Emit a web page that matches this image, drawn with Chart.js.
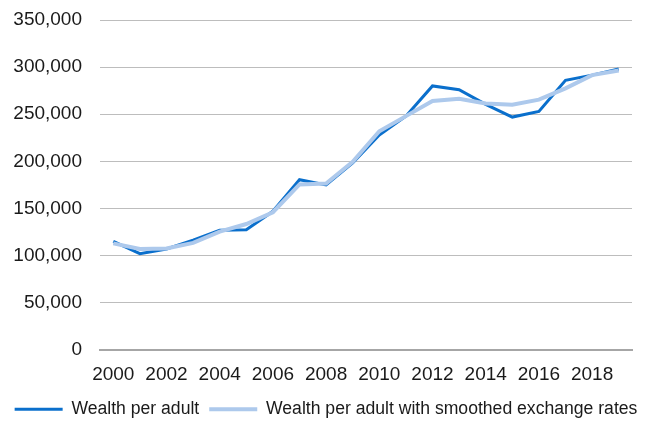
<!DOCTYPE html>
<html>
<head>
<meta charset="utf-8">
<script src="https://cdn.jsdelivr.net/npm/chart.js@4.4.1/dist/chart.umd.min.js"></script>
<style>
  html, body { margin: 0; padding: 0; background: #ffffff; }
  #wrap { width: 652px; height: 428px; position: relative; }
</style>
</head>
<body>
<div id="wrap"><canvas id="c" width="652" height="428"></canvas></div>
<script>
const years = ['2000','2001','2002','2003','2004','2005','2006','2007','2008','2009','2010','2011','2012','2013','2014','2015','2016','2017','2018','2019'];
const wealthPerAdult = [115000, 102000, 107000, 116500, 127000, 127500, 147000, 180500, 175000, 198500, 228000, 248000, 280000, 276000, 260500, 247000, 253000, 286000, 291500, 298000];
const wealthSmoothed = [113000, 107000, 107500, 113500, 125500, 133500, 146000, 175500, 176500, 199500, 232000, 248000, 264000, 266500, 261500, 260000, 265500, 277500, 291500, 296500];
const seriesNames = ['Wealth per adult', 'Wealth per adult with smoothed exchange rates'];
const yTicks = { min: 0, max: 350000, step: 50000 };

const FONT = '"Liberation Sans", Arial, Helvetica, sans-serif';

new Chart(document.getElementById('c'), {
  type: 'line',
  data: {
    labels: years,
    datasets: [
      {
        label: seriesNames[0],
        data: wealthPerAdult,
        borderColor: '#0a6fcc',
        backgroundColor: '#0a6fcc',
        borderWidth: 3,
        pointRadius: 0,
        tension: 0,
        order: 1
      },
      {
        label: seriesNames[1],
        data: wealthSmoothed,
        borderColor: '#adc9ec',
        backgroundColor: '#adc9ec',
        borderWidth: 4,
        pointRadius: 0,
        tension: 0,
        order: 0
      }
    ]
  },
  options: {
    responsive: false,
    animation: false,
    layout: { padding: { top: 20, right: 0, left: 0, bottom: 0 } },
    plugins: {
      tooltip: { enabled: false },
      legend: {
        position: 'bottom',
        labels: {
          usePointStyle: true,
          pointStyle: 'line',
          pointStyleWidth: 48,
          padding: 10,
          color: '#1a1a1a',
          font: { family: FONT, size: 17.6, lineHeight: 1.0 },
          sort: function(a, b) { return a.datasetIndex - b.datasetIndex; }
        }
      }
    },
    scales: {
      x: {
        offset: true,
        grid: { display: true, color: 'rgba(0,0,0,0)', drawOnChartArea: false, drawTicks: true, tickLength: 9.5, tickColor: 'rgba(0,0,0,0)' },
        border: { display: true, color: '#a6a6a6', width: 2 },
        ticks: {
          autoSkip: false,
          maxRotation: 0,
          padding: 4.6,
          color: '#1a1a1a',
          font: { family: FONT, size: 19, lineHeight: 1.15 },
          callback: function(v, i) { return i % 2 === 0 ? this.getLabelForValue(v) : ''; }
        }
      },
      y: {
        min: yTicks.min,
        max: yTicks.max,
        grid: { color: '#bdbdbd', lineWidth: 1, drawTicks: true, tickLength: 18, tickColor: 'rgba(0,0,0,0)' },
        border: { display: false },
        afterFit: function(s) { s.width = 100; },
        ticks: {
          stepSize: yTicks.step,
          padding: 0,
          color: '#1a1a1a',
          font: { family: FONT, size: 19 },
          callback: function(v) { return Number(v).toLocaleString('en-US'); }
        }
      },
      y2: {
        position: 'right',
        display: true,
        grid: { display: false, drawTicks: false },
        border: { display: false },
        ticks: { display: false },
        afterFit: function(s) { s.width = 20; }
      }
    }
  }
});
</script>
</body>
</html>
